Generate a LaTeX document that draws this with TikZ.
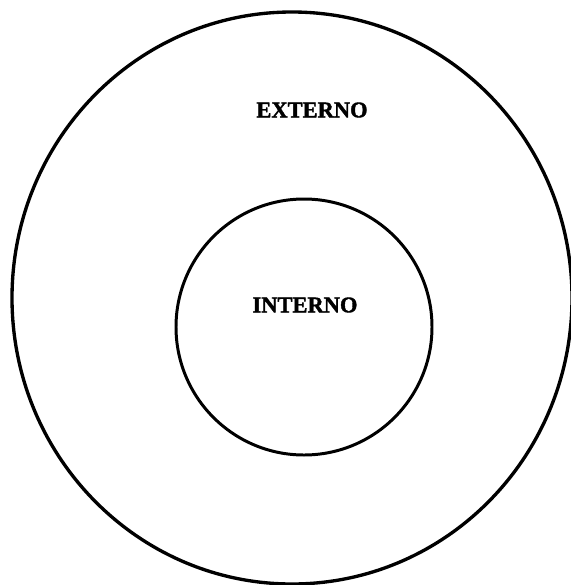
\documentclass[tikz,border=0pt]{standalone}
\usepackage{fontspec}
\setmainfont{Liberation Serif}
\newfontfamily\printfont[FakeBold=1.6]{Liberation Serif}
\begin{document}
\begin{tikzpicture}[
    x=0.02cm, y=-0.02cm,
    ring/.style={line width=1.9pt},
    region/.style={font=\printfont\bfseries\fontsize{12.8}{14}\selectfont, inner sep=0pt}
    ]
    
    \useasboundingbox (0,0) rectangle (571,585);
    \clip (0,0) rectangle (571,585);
    
    \draw[ring] (292,298) ellipse [x radius=280, y radius=286];
    \draw[ring, line width=1.7pt] (304,327) circle [radius=128];
    
    \node[region] (ext) at (312,110) {EXTERNO};
    \node[region] (int) at (305,305) {INTERNO};
    
\end{tikzpicture}
\end{document}
